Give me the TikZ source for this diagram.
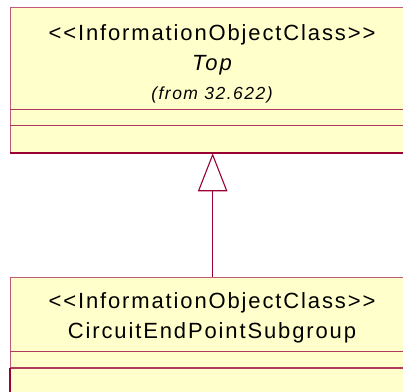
\documentclass[tikz,border=0pt]{standalone}
\usepackage{fontspec}
\newfontfamily\umlfont[LetterSpace=8.5]{Liberation Sans}
\usetikzlibrary{arrows.meta}
\definecolor{umlfill}{HTML}{FFFFCC}
\definecolor{umlline}{HTML}{990033}
\definecolor{umllight}{HTML}{C05A78}
\definecolor{umlsep}{HTML}{B03A5E}
\tikzset{
  classbox/.style={draw=umllight, fill=umlfill, line width=1.3bp, rectangle, anchor=north west, inner sep=0pt},
  sepline/.style={draw=umlsep, line width=1.5bp},
  darkedge/.style={draw=umlline, line width=2.2bp},
  bigtext/.style={font=\umlfont\fontsize{22bp}{26bp}\selectfont, anchor=base, inner sep=0pt},
  smalltext/.style={font=\umlfont\fontsize{17.5bp}{21bp}\selectfont\itshape, anchor=base, inner sep=0pt},
  inherit/.style={draw=umlline, line width=1.1bp, -{Triangle[open, length=38bp, width=29.4bp]}}
}
\begin{document}
\begin{tikzpicture}[x=1bp, y=1bp]
\useasboundingbox (0,0) rectangle (403,392);
\fill[white] (0,0) rectangle (403,392);
\clip (0,0) rectangle (403,392);
% top class
\node[classbox, minimum width=404bp, minimum height=145bp] (top) at (10,385) {};
\draw[sepline] ([yshift=-102.3bp]top.north west) -- ([yshift=-102.3bp]top.north east);
\draw[sepline] ([yshift=-118.7bp]top.north west) -- ([yshift=-118.7bp]top.north east);
\draw[darkedge] (top.south west) -- (top.south east);
\node[bigtext] (topstereo) at (212,352) {<<InformationObjectClass>>};
\node[bigtext, font=\umlfont\fontsize{22bp}{26bp}\selectfont\itshape] (topname) at (212,322) {Top};
\node[smalltext] (topfrom) at (212,293) {(from 32.622)};
% sub class
\node[classbox, minimum width=404bp, minimum height=130bp] (sub) at (10,115.3) {};
\draw[sepline] ([yshift=-75bp]sub.north west) -- ([yshift=-75bp]sub.north east);
\draw[sepline] ([yshift=-91.4bp]sub.north west) -- ([yshift=-91.4bp]sub.north east);
\draw[darkedge] ([yshift=-91.4bp]sub.north west) -- (sub.south west);
\node[bigtext] (substereo) at (212,84) {<<InformationObjectClass>>};
\node[bigtext] (subname) at (212,53.5) {CircuitEndPointSubgroup};
% generalization
\draw[inherit] (sub.north) -- (top.south);
\end{tikzpicture}
\end{document}
